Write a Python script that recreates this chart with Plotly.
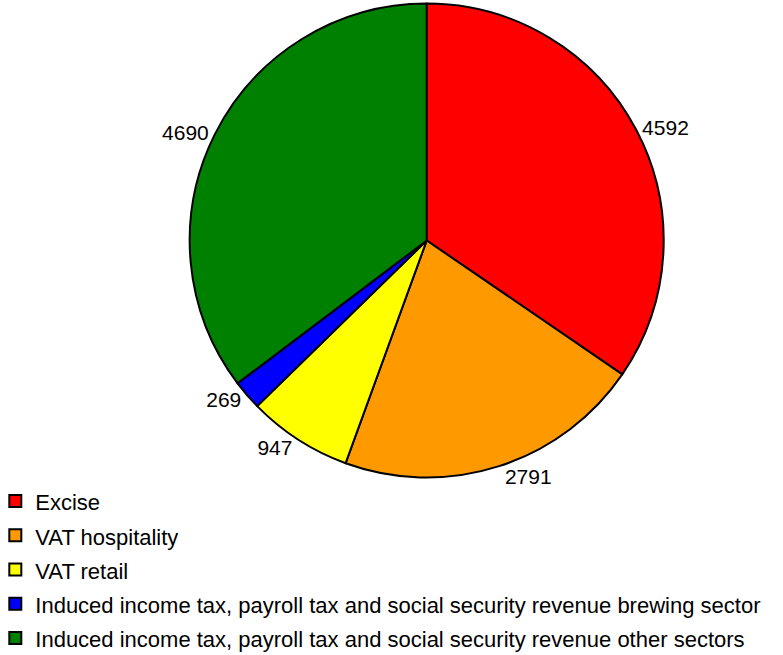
import plotly.graph_objects as go

categories = [
    "Excise",
    "VAT hospitality",
    "VAT retail",
    "Induced income tax, payroll tax and social security revenue brewing sector",
    "Induced income tax, payroll tax and social security revenue other sectors",
]
values = [4592, 2791, 947, 269, 4690]
colors = ["#FF0000", "#FF9900", "#FFFF00", "#0000FF", "#008000"]

FONT = "Liberation Sans, Arial, sans-serif"
legend_labels = ['<span style="font-size:22px">%s</span>' % c for c in categories]

W, H = 783, 655
cx, cy, r = 426.7, 240.5, 237

fig = go.Figure(
    go.Pie(
        labels=legend_labels,
        values=values,
        sort=False,
        direction="clockwise",
        rotation=0,
        marker=dict(colors=colors, line=dict(color="#000000", width=2)),
        textinfo="value",
        textposition="outside",
        outsidetextfont=dict(family=FONT, size=21, color="#000000"),
        domain=dict(
            x=[(cx - r) / W, (cx + r) / W],
            y=[1 - (cy + r) / H, 1 - (cy - r) / H],
        ),
        hoverinfo="label+value",
    )
)

fig.update_layout(
    width=W,
    height=H,
    margin=dict(l=0, r=0, t=0, b=0, autoexpand=False),
    paper_bgcolor="white",
    plot_bgcolor="white",
    showlegend=True,
    legend=dict(
        x=-0.006,
        xanchor="left",
        y=1 - 479 / H,
        yanchor="top",
        orientation="v",
        font=dict(family=FONT, size=24, color="#000000"),
        bgcolor="rgba(0,0,0,0)",
        traceorder="normal",
    ),
)

fig.write_html(
    "out.html",
    config={"displayModeBar": False},
    post_script="document.body.style.margin='0px';document.body.style.overflow='hidden';",
)
